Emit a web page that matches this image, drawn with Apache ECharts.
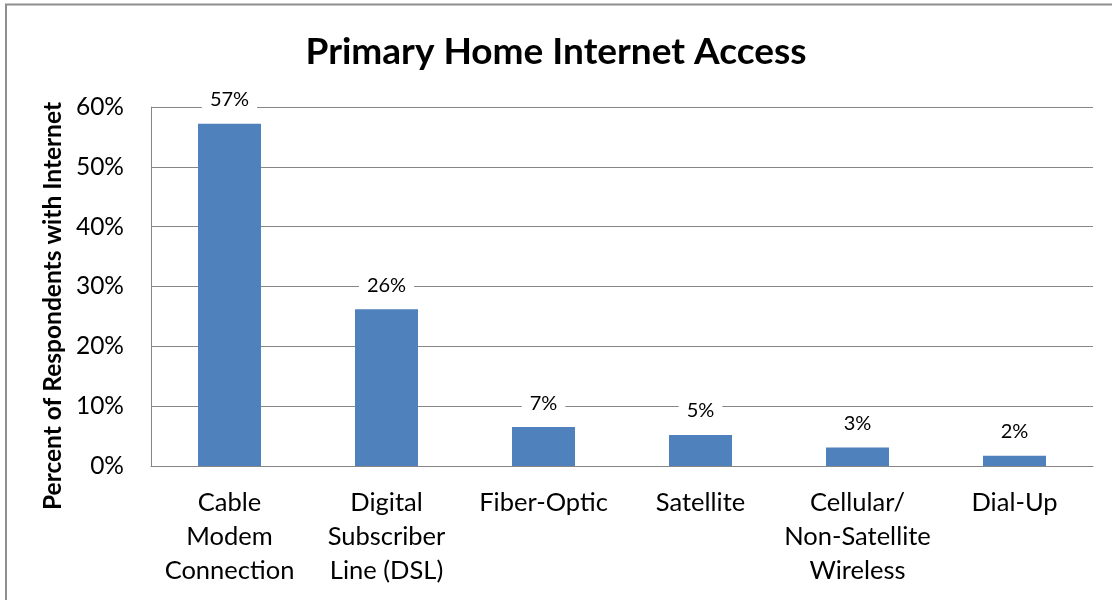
<!DOCTYPE html>
<html>
<head>
<meta charset="utf-8">
<script src="https://cdn.jsdelivr.net/npm/echarts@6/dist/echarts.min.js"></script>
<style>
  html, body { margin: 0; padding: 0; background: #ffffff; }
  #chart { width: 1112px; height: 600px; }
</style>
</head>
<body>
<div id="chart"></div>
<script>
// Primary home internet access, share of respondents with internet (%)
const categories = [
  'Cable\nModem\nConnection',
  'Digital\nSubscriber\nLine (DSL)',
  'Fiber-Optic',
  'Satellite',
  'Cellular/\nNon-Satellite\nWireless',
  'Dial-Up'
];
const shares = [57.2, 26.2, 6.5, 5.2, 3.1, 1.7];
const yTicks = { min: 0, max: 60, interval: 10 };

const titleText = 'Primary Home Internet Access';
const yAxisTitle = 'Percent of Respondents with Internet';

const FONT = 'Lato';
const GRID_GRAY = '#868686';

const chart = echarts.init(document.getElementById('chart'), null, { renderer: 'canvas' });

chart.setOption({
  backgroundColor: '#ffffff',
  animation: false,
  title: {
    text: titleText,
    left: 'center',
    top: 29,
    textStyle: { fontFamily: FONT, fontWeight: 'bold', fontSize: 37, color: '#000000' }
  },
  grid: { left: 151, right: 19, top: 107, bottom: 134, containLabel: false },
  xAxis: {
    type: 'category',
    data: categories,
    axisLine: { show: true, lineStyle: { color: GRID_GRAY, width: 1 } },
    axisTick: { show: false },
    axisLabel: {
      interval: 0,
      margin: 20,
      fontFamily: FONT,
      fontSize: 25.5,
      lineHeight: 34,
      color: '#000000',
      align: 'center'
    }
  },
  yAxis: {
    type: 'value',
    min: yTicks.min,
    max: yTicks.max,
    interval: yTicks.interval,
    axisLine: { show: true, lineStyle: { color: GRID_GRAY, width: 1 } },
    axisTick: { show: false },
    splitLine: { show: true, lineStyle: { color: GRID_GRAY, width: 1 } },
    axisLabel: {
      margin: 27,
      fontFamily: FONT,
      fontSize: 24.5,
      color: '#000000',
      formatter: v => v + '%'
    }
  },
  series: [{
    type: 'bar',
    data: shares,
    barWidth: 63,
    itemStyle: { color: '#4F81BD' },
    label: {
      show: true,
      position: 'top',
      distance: 13,
      fontFamily: FONT,
      fontSize: 20,
      color: '#000000',
      backgroundColor: '#ffffff',
      padding: [1, 8],
      formatter: p => Math.round(p.value) + '%'
    }
  }],
  graphic: [
    {
      type: 'rect',
      silent: true,
      shape: { x: 6, y: 4.5, width: 1200, height: 700 },
      style: { fill: 'none', stroke: '#8e8e8e', lineWidth: 2 }
    },
    {
      type: 'text',
      x: 53,
      y: 306,
      rotation: Math.PI / 2,
      style: {
        text: yAxisTitle,
        fontFamily: FONT,
        fontWeight: 'bold',
        fontSize: 24.5,
        fill: '#000000',
        align: 'center',
        verticalAlign: 'middle'
      }
    }
  ]
});
</script>
</body>
</html>
